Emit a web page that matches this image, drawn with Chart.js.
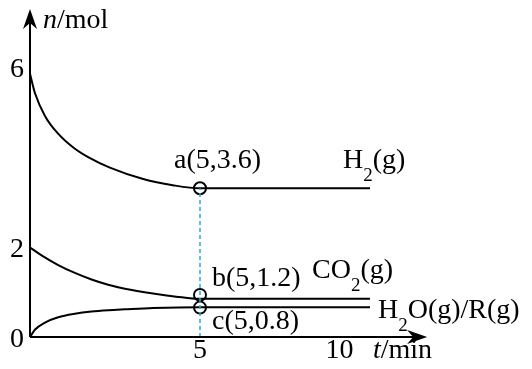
<!DOCTYPE html>
<html>
<head>
<meta charset="utf-8">
<script src="https://cdn.jsdelivr.net/npm/chart.js@4"></script>
<style>
  html, body { margin: 0; padding: 0; background: #fff; }
  canvas { display: block; }
</style>
</head>
<body>
<canvas id="myChart" width="532" height="369"></canvas>
<script>
// valeurs
const tH2 = [0, 0.15, 0.44, 0.82, 1.32, 1.71, 2.35, 3.33, 4.2, 5, 10];
const nH2 = [6.0, 5.55, 5.04, 4.64, 4.29, 4.1, 3.86, 3.6, 3.46, 3.39, 3.39];
const tCO2 = [0, 0.34, 0.83, 1.32, 1.81, 2.3, 2.79, 3.62, 4.3, 5, 10];
const nCO2 = [2.04, 1.86, 1.64, 1.46, 1.31, 1.19, 1.1, 0.99, 0.92, 0.87, 0.87];
const tH2O = [0, 0.15, 0.44, 0.83, 1.32, 1.81, 2.3, 2.79, 3.62, 5, 10];
const nH2O = [0, 0.17, 0.33, 0.45, 0.53, 0.58, 0.61, 0.63, 0.66, 0.68, 0.68];

// points marqués a, b, c
const markT = [5, 5, 5];
const markN = [3.39, 0.96, 0.67];

// graduations (le "10" est placé comme sur la figure, pas à l'échelle)
const xTicks = [5, 9.1];
const xTickLabels = ['5', '10'];
const yTicks = [0, 2, 6];
const yTickLabels = ['0', '2', '6'];

const FONT = '"Liberation Serif", "DejaVu Serif", serif';
const SIZE = 28;

function toPoints(xs, ys) {
    return xs.map((x, i) => ({ x: x, y: ys[i] }));
}

// texte avec indices : parts = [[texte, indice?, italique?], ...]
function drawRich(ctx, parts, x, y) {
    let cx = x;
    parts.forEach(p => {
        const sub = p[1];
        const it = p[2];
        ctx.font = (it ? 'italic ' : '') + (sub ? Math.round(SIZE * 0.68) : SIZE) + 'px ' + FONT;
        ctx.fillText(p[0], cx, sub ? y + 13 : y);
        cx += ctx.measureText(p[0]).width;
    });
}

const axesPlugin = {
    id: 'axes',
    afterDatasetsDraw(chart) {
        const ctx = chart.ctx;
        const xs = chart.scales.x;
        const ys = chart.scales.y;
        const x0 = xs.getPixelForValue(0);
        const y0 = ys.getPixelForValue(0);
        const xEnd = xs.getPixelForValue(11.68);
        const yEnd = ys.getPixelForValue(7.48);

        ctx.save();
        ctx.strokeStyle = '#000';
        ctx.fillStyle = '#000';
        ctx.lineWidth = 2;
        ctx.beginPath();
        ctx.moveTo(x0, y0);
        ctx.lineTo(xEnd - 8, y0);
        ctx.moveTo(x0, y0);
        ctx.lineTo(x0, yEnd + 8);
        ctx.stroke();

        // flèches
        ctx.beginPath();
        ctx.moveTo(xEnd, y0);
        ctx.lineTo(xEnd - 20, y0 - 7);
        ctx.lineTo(xEnd - 14, y0);
        ctx.lineTo(xEnd - 20, y0 + 7);
        ctx.closePath();
        ctx.fill();
        ctx.beginPath();
        ctx.moveTo(x0, yEnd);
        ctx.lineTo(x0 - 7, yEnd + 20);
        ctx.lineTo(x0, yEnd + 14);
        ctx.lineTo(x0 + 7, yEnd + 20);
        ctx.closePath();
        ctx.fill();

        ctx.font = SIZE + 'px ' + FONT;
        ctx.textBaseline = 'alphabetic';
        ctx.textAlign = 'center';
        xTicks.forEach((v, i) => {
            ctx.fillText(xTickLabels[i], xs.getPixelForValue(v), y0 + 21);
        });
        ctx.textAlign = 'right';
        const yBase = { 0: 10, 2: 8, 6: 3 };
        yTicks.forEach((v, i) => {
            ctx.fillText(yTickLabels[i], x0 - 6, ys.getPixelForValue(v) + yBase[v]);
        });

        ctx.textAlign = 'left';
        drawRich(ctx, [['n', false, true], ['/mol']], x0 + 13, 28);
        drawRich(ctx, [['t', false, true], ['/min']], 373, 358);

        drawRich(ctx, [['a(5,3.6)']], 174, 168);
        drawRich(ctx, [['H'], ['2', true], ['(g)']], 343, 168);
        drawRich(ctx, [['b(5,1.2)']], 212, 286);
        drawRich(ctx, [['CO'], ['2', true], ['(g)']], 312, 278);
        drawRich(ctx, [['c(5,0.8)']], 212, 329);
        drawRich(ctx, [['H'], ['2', true], ['O(g)/R(g)']], 378, 318);
        ctx.restore();
    }
};

const line = (pts) => ({
    type: 'line',
    data: pts,
    borderColor: '#000',
    borderWidth: 2,
    pointRadius: 0,
    cubicInterpolationMode: 'monotone',
    fill: false
});

new Chart(document.getElementById('myChart').getContext('2d'), {
    data: {
        datasets: [
            {
                type: 'line',
                data: [{ x: 5, y: 0 }, { x: 5, y: markN[0] }],
                borderColor: '#29a8e0',
                borderWidth: 1.5,
                borderDash: [4, 3],
                pointRadius: 0
            },
            line(toPoints(tH2, nH2)),
            line(toPoints(tCO2, nCO2)),
            line(toPoints(tH2O, nH2O)),
            {
                type: 'scatter',
                data: toPoints(markT, markN),
                pointRadius: 6,
                pointBorderWidth: 2,
                pointBackgroundColor: '#fff',
                pointBorderColor: '#000'
            }
        ]
    },
    options: {
        responsive: false,
        animation: false,
        layout: { padding: { left: 30, right: 26, top: 7, bottom: 32 } },
        plugins: { legend: { display: false }, tooltip: { enabled: false } },
        scales: {
            x: { type: 'linear', min: 0, max: 14, display: false },
            y: { type: 'linear', min: 0, max: 7.5, display: false }
        }
    },
    plugins: [axesPlugin]
});
</script>
</body>
</html>
